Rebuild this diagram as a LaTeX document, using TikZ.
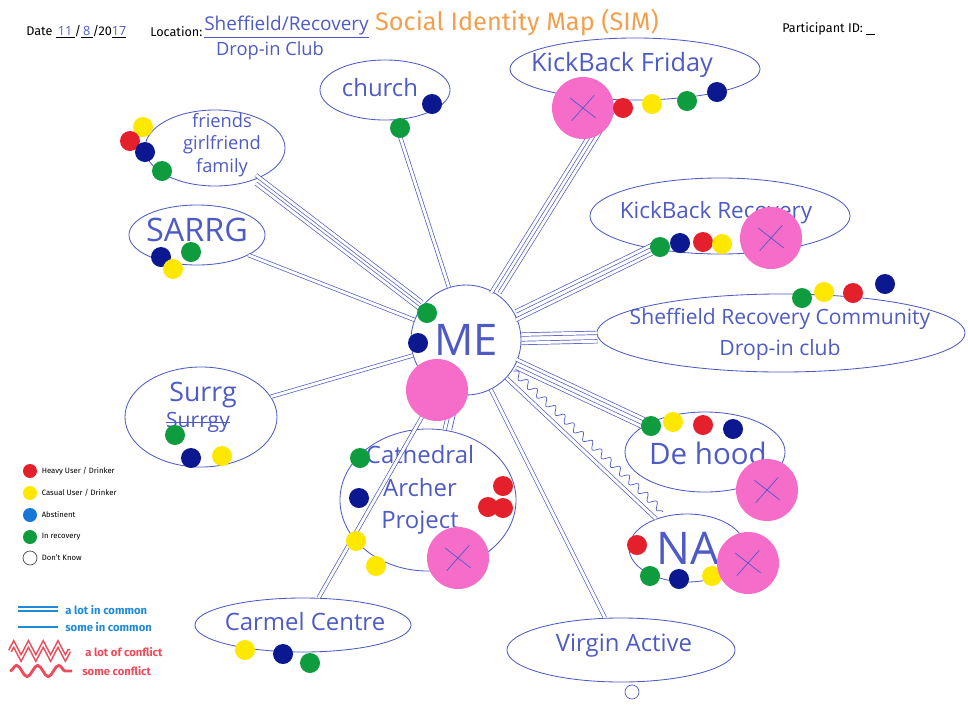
\documentclass[tikz,border=0pt]{standalone}
\usepackage{fontspec}
\setmainfont{Fira Sans}
\newfontfamily\hand{Open Sans}
\usetikzlibrary{positioning,shapes.geometric,decorations.pathmorphing}
\definecolor{ink}{HTML}{4F5BC4}
\definecolor{dotred}{HTML}{E3202C}
\definecolor{dotyellow}{HTML}{FFE800}
\definecolor{dotnavy}{HTML}{0B1890}
\definecolor{dotgreen}{HTML}{0E9C3E}
\definecolor{dotblue}{HTML}{1878D8}
\definecolor{dotpink}{HTML}{F56CC9}
\definecolor{titleorange}{HTML}{F2A04E}
\definecolor{keyblue}{HTML}{1E8AD8}
\definecolor{keyred}{HTML}{EE4A5A}

\begin{document}
\begin{tikzpicture}[x=0.025cm,y=-0.025cm,
  grp/.style={ellipse,draw=ink,line width=0.6pt,inner sep=0pt},
  hw/.style={text=ink,font=\hand\fontsize{17}{21}\selectfont,align=center,inner sep=0pt},
  dot/.style={circle,inner sep=0pt,minimum size=0.5cm},
  rd/.style={dot,fill=dotred},
  yd/.style={dot,fill=dotyellow},
  nd/.style={dot,fill=dotnavy},
  gd/.style={dot,fill=dotgreen},
  big/.style={circle,fill=dotpink,inner sep=0pt,minimum size=1.55cm},
  xbig/.style={big,path picture={\draw[ink,line width=0.5pt]
    ([shift={(-8pt,-9pt)}]path picture bounding box.center) -- ([shift={(8pt,9pt)}]path picture bounding box.center)
    ([shift={(-9pt,7pt)}]path picture bounding box.center) -- ([shift={(9pt,-7pt)}]path picture bounding box.center);}},
  lot/.style={draw=ink,line width=0.5pt,double=white,double distance=2pt},
  some/.style={draw=ink,line width=0.5pt},
  wavy/.style={draw=ink,line width=0.5pt,decorate,decoration={snake,amplitude=2.5pt,segment length=9pt}},
  form/.style={font=\fontsize{9}{11}\selectfont,inner sep=0pt},
  keytxt/.style={font=\fontsize{5.5}{6}\selectfont,inner sep=0pt},
  keyline/.style={font=\bfseries\fontsize{8}{9}\selectfont,inner sep=0pt}]
\useasboundingbox (0,0) rectangle (968,705);

% header
\node[form,anchor=west] (date) at (26,32) {Date \underline{\,{\hand\color{ink}11}\,}/\underline{\,{\hand\color{ink}8}\,}/20\underline{{\hand\color{ink}17}}};
\node[form,anchor=west] (loc) at (150,32) {Location:};
\node[hw,font=\hand\fontsize{13.5}{15}\selectfont,anchor=west] (loc1) at (204,27) {\underline{Sheffield/Recovery}};
\node[hw,font=\hand\fontsize{13}{15}\selectfont] (loc2) at (270,51) {Drop-in Club};
\node[text=titleorange,font=\fontsize{18}{21}\selectfont,inner sep=0pt] (title) at (517,22) {Social Identity Map (SIM)};
\node[form,anchor=west] (pid) at (782,29) {Participant ID: \underline{\hspace{6pt}}};

% groups
\node[grp,minimum width=3.25cm,minimum height=1.5cm] (church) at (385,90) {};
\node[hw] (church-t) at (380,88) {church};
\node[grp,minimum width=3.5cm,minimum height=1.9cm] (friends) at (215,148) {};
\node[hw,font=\hand\fontsize{13}{16}\selectfont] (friends-t) at (222,145) {friends\\girlfriend\\family};
\node[grp,minimum width=3.4cm,minimum height=1.5cm] (sarrg) at (197,235) {};
\node[hw,font=\hand\fontsize{23}{26}\selectfont] (sarrg-t) at (197,230) {SARRG};
\node[grp,minimum width=6.25cm,minimum height=1.55cm] (kbf) at (635,69) {};
\node[hw,font=\hand\fontsize{18}{21}\selectfont] (kbf-t) at (622,65) {KickBack Friday};
\node[grp,minimum width=6.5cm,minimum height=1.9cm] (kbr) at (720,216) {};
\node[hw,font=\hand\fontsize{16}{20}\selectfont] (kbr-t) at (716,213) {KickBack Recovery};
\node[grp,minimum width=9.2cm,minimum height=1.95cm] (shef) at (781,333) {};
\node[hw,font=\hand\fontsize{15}{22}\selectfont] (shef-t) at (780,334) {Sheffield Recovery Community\\Drop-in club};
\node[circle,draw=ink,line width=0.6pt,minimum size=2.75cm,inner sep=0pt,text=ink,font=\hand\fontsize{31}{34}\selectfont] (me) at (466,340) {ME};
\node[grp,minimum width=3.8cm,minimum height=2.5cm] (surrg) at (201,417) {};
\node[hw,font=\hand\fontsize{19}{22}\selectfont] (surrg-t) at (203,395) {Surrg};
\node[hw,font=\hand\fontsize{15}{17}\selectfont] (surrg-s) at (198,422) {Surrgy};
\draw[some] (surrg-s.west) -- (surrg-s.east);
\node[grp,minimum width=4.4cm,minimum height=3.55cm] (cath) at (428,500) {};
\node[hw,font=\hand\fontsize{17}{23}\selectfont] (cath-t) at (420,490) {Cathedral\\Archer\\Project};
\node[grp,minimum width=4cm,minimum height=2cm] (dehood) at (705,452) {};
\node[hw,font=\hand\fontsize{21}{24}\selectfont] (dehood-t) at (708,453) {De hood};
\node[grp,minimum width=2.9cm,minimum height=1.7cm] (na) at (687,548) {};
\node[hw,font=\hand\fontsize{32}{34}\selectfont] (na-t) at (688,548) {NA};
\node[grp,minimum width=5.4cm,minimum height=1.35cm] (carmel) at (303,625) {};
\node[hw] (carmel-t) at (305,622) {Carmel Centre};
\node[grp,minimum width=5.7cm,minimum height=1.6cm] (va) at (621,650) {};
\node[hw] (va-t) at (624,646) {Virgin Active};

% ties to ME
\draw[lot] (me) -- (church);
\foreach \s in {-3,3} \draw[lot,transform canvas={xshift=\s pt}] (me) -- (kbf);
\foreach \s in {-3,3} \draw[lot,transform canvas={yshift=\s pt}] (me) -- (friends);
\draw[lot] (me) -- (sarrg);
\foreach \s in {-3,3} \draw[lot,transform canvas={yshift=\s pt}] (me) -- (kbr);
\foreach \s in {-3,3} \draw[lot,transform canvas={yshift=\s pt}] (me) -- (shef);
\draw[lot] (me) -- (surrg);
\draw[lot] (me) -- (carmel);
\draw[lot] (me) -- (cath);
\draw[some,transform canvas={xshift=5pt}] (me) -- (cath);
\draw[lot] (me) -- (va);
\foreach \s in {-3,3} \draw[lot,transform canvas={yshift=\s pt}] (me) -- (dehood);
\draw[lot] (me) -- (na);
\draw[wavy,transform canvas={shift={(5pt,5pt)}}] (me) -- (na);

% dots
\node[nd] (church-1) at (432,104) {};
\node[gd] (church-2) at (400,128) {};
\node[yd] (friends-1) at (143,127) {};
\node[rd] (friends-2) at (130,141) {};
\node[nd] (friends-3) at (145,152) {};
\node[gd] (friends-4) at (162,171) {};
\node[nd] (sarrg-1) at (161,257) {};
\node[gd] (sarrg-2) at (191,252) {};
\node[yd] (sarrg-3) at (173,269) {};
\node[xbig] (kbf-1) at (583,108) {};
\node[rd] (kbf-2) at (623,108) {};
\node[yd] (kbf-3) at (652,104) {};
\node[gd] (kbf-4) at (687,101) {};
\node[nd] (kbf-5) at (717,92) {};
\node[gd] (kbr-1) at (660,247) {};
\node[nd] (kbr-2) at (680,243) {};
\node[rd] (kbr-3) at (703,242) {};
\node[yd] (kbr-4) at (722,244) {};
\node[xbig] (kbr-5) at (771,238) {};
\node[gd] (shef-1) at (802,298) {};
\node[yd] (shef-2) at (824,292) {};
\node[rd] (shef-3) at (853,293) {};
\node[nd] (shef-4) at (885,284) {};
\node[gd] (me-1) at (427,313) {};
\node[nd] (me-2) at (418,343) {};
\node[big] (me-3) at (437,390) {};
\node[gd] (surrg-1) at (175,435) {};
\node[nd] (surrg-2) at (191,458) {};
\node[yd] (surrg-3) at (222,456) {};
\node[gd] (cath-1) at (360,458) {};
\node[nd] (cath-2) at (359,498) {};
\node[rd] (cath-3) at (503,486) {};
\node[rd] (cath-4) at (488,507) {};
\node[rd] (cath-5) at (503,508) {};
\node[yd] (cath-6) at (356,541) {};
\node[yd] (cath-7) at (376,566) {};
\node[xbig] (cath-8) at (458,558) {};
\node[gd] (dehood-1) at (651,426) {};
\node[yd] (dehood-2) at (673,422) {};
\node[rd] (dehood-3) at (703,425) {};
\node[nd] (dehood-4) at (733,429) {};
\node[xbig] (dehood-5) at (767,490) {};
\node[rd] (na-1) at (637,545) {};
\node[gd] (na-2) at (650,576) {};
\node[nd] (na-3) at (679,579) {};
\node[yd] (na-4) at (712,576) {};
\node[xbig] (na-5) at (748,563) {};
\node[yd] (carmel-1) at (245,650) {};
\node[nd] (carmel-2) at (283,654) {};
\node[gd] (carmel-3) at (310,663) {};
\node[circle,draw=ink,line width=0.5pt,inner sep=0pt,minimum size=0.35cm] (va-1) at (632,692) {};

% key
\node[dot,fill=dotred,minimum size=0.35cm] (key-heavy) at (30,471) {};
\node[keytxt,right=3pt of key-heavy] (key-heavy-t) {Heavy User / Drinker};
\node[dot,fill=dotyellow,minimum size=0.35cm] (key-casual) at (30,493) {};
\node[keytxt,right=3pt of key-casual] (key-casual-t) {Casual User / Drinker};
\node[dot,fill=dotblue,minimum size=0.35cm] (key-abst) at (30,515) {};
\node[keytxt,right=3pt of key-abst] (key-abst-t) {Abstinent};
\node[dot,fill=dotgreen,minimum size=0.35cm] (key-rec) at (30,537) {};
\node[keytxt,right=3pt of key-rec] (key-rec-t) {In recovery};
\node[dot,draw=black!70,line width=0.5pt,fill=white,minimum size=0.35cm] (key-dk) at (30,558) {};
\node[keytxt,right=3pt of key-dk] (key-dk-t) {Don't Know};

\coordinate (lot-a) at (18,609);
\coordinate (lot-b) at (58,609);
\draw[keyblue,line width=1.6pt,double=white,double distance=1.2pt] (lot-a) -- (lot-b);
\node[keyline,text=keyblue,anchor=west] (lot-t) at (65,610) {a lot in common};
\coordinate (some-a) at (18,627);
\coordinate (some-b) at (58,627);
\draw[keyblue,line width=2pt] (some-a) -- (some-b);
\node[keyline,text=keyblue,anchor=west] (some-t) at (65,627) {some in common};
\coordinate (conf-a) at (10,651);
\coordinate (conf-b) at (70,651);
\draw[keyred,line width=1.1pt,double=white,double distance=1pt,decorate,decoration={zigzag,amplitude=5pt,segment length=10.5pt}] (conf-a) -- (conf-b);
\node[keyline,text=keyred,anchor=west] (conf-t) at (85,652) {a lot of conflict};
\coordinate (sconf-a) at (10,671);
\coordinate (sconf-b) at (72,671);
\draw[keyred,line width=2pt,decorate,decoration={snake,amplitude=4pt,segment length=15pt}] (sconf-a) -- (sconf-b);
\node[keyline,text=keyred,anchor=west] (sconf-t) at (82,671) {some conflict};
\end{tikzpicture}
\end{document}
